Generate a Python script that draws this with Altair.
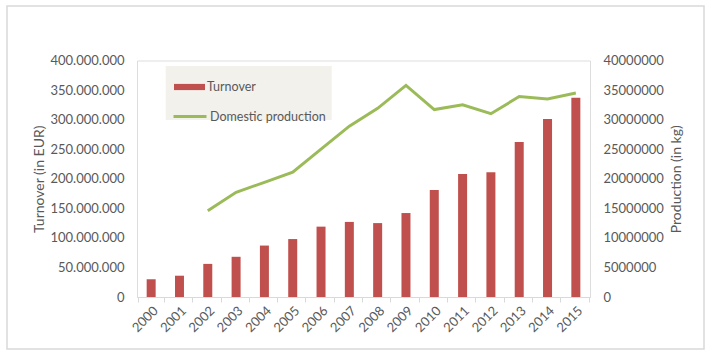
import altair as alt
import pandas as pd

years = [str(y) for y in range(2000, 2016)]
turnover = [30e6, 36e6, 56e6, 68e6, 87e6, 98e6, 119e6, 127e6, 125e6, 142e6,
            181e6, 208e6, 211e6, 262e6, 301e6, 337e6]
production = [None, None, 14.6e6, 17.7e6, 19.4e6, 21.1e6, 25.0e6, 28.9e6, 31.9e6,
              35.8e6, 31.7e6, 32.5e6, 31.0e6, 33.9e6, 33.5e6, 34.5e6]
series_names = ["Turnover", "Domestic production"]

df = pd.DataFrame({"year": years, "turnover": turnover, "production": production,
                   "s1": series_names[0], "s2": series_names[1]})

FONT = "Lato"
GREY = "#595959"
BAR = "#c0504d"
LINE = "#9bbb59"

xenc = alt.X("year:N", title=None, sort=years,
             axis=alt.Axis(labelAngle=-45, labelAlign="right", labelBaseline="top",
                           labelColor=GREY, labelFont=FONT, labelFontSize=13,
                           domainColor="#d9d9d9", tickColor="#d9d9d9", tickSize=5,
                           tickBand="extent", labelPadding=2))

bars = alt.Chart(df).mark_bar(size=9).encode(
    x=xenc,
    y=alt.Y("turnover:Q", title="Turnover (in EUR)",
            scale=alt.Scale(domain=[0, 400e6], nice=False),
            axis=alt.Axis(orient="left", values=[i * 50e6 for i in range(9)],
                          labelExpr="replace(format(datum.value, ',d'), /,/g, '.')",
                          grid=False, domain=False, ticks=False, labelPadding=13,
                          labelColor=GREY, labelFont=FONT, labelFontSize=13,
                          titleColor=GREY, titleFont=FONT, titleFontSize=14,
                          titleFontWeight="normal", titlePadding=4)),
    color=alt.Color("s1:N", scale=alt.Scale(domain=[series_names[0]], range=[BAR]),
                    legend=alt.Legend(title=None, orient="none", legendX=37, legendY=11,
                                      symbolType="M-1,-0.2H1V0.2H-1Z", symbolSize=961,
                                      symbolStrokeWidth=0, labelColor=GREY, labelFont=FONT,
                                      labelFontSize=12.5, labelOffset=2, padding=0)),
)

line = alt.Chart(df).transform_filter("datum.production != null").mark_line(
    strokeWidth=3).encode(
    x=alt.X("year:N", sort=years),
    y=alt.Y("production:Q", title="Production (in kg)",
            scale=alt.Scale(domain=[0, 40e6], nice=False),
            axis=alt.Axis(orient="right", values=[i * 5e6 for i in range(9)], format="d",
                          grid=False, domain=False, ticks=False, labelPadding=13,
                          labelColor=GREY, labelFont=FONT, labelFontSize=13,
                          titleColor=GREY, titleFont=FONT, titleFontSize=14,
                          titleFontWeight="normal", titlePadding=20, titleAngle=-90)),
    stroke=alt.Stroke("s2:N", scale=alt.Scale(domain=[series_names[1]], range=[LINE]),
                      legend=alt.Legend(title=None, orient="none", legendX=35, legendY=38,
                                        symbolType="stroke", symbolSize=1089,
                                        symbolStrokeWidth=3, labelColor=GREY, labelFont=FONT,
                                        labelFontSize=12.5, labelOffset=2, padding=0)),
)

one = pd.DataFrame({"k": [0]})
border = alt.Chart(one).mark_rect(fill=None, stroke="#d9d9d9", strokeWidth=1.5).encode(
    x=alt.value(-130), x2=alt.value(567), y=alt.value(-54.5), y2=alt.value(288.5))
legbox = alt.Chart(one).mark_rect(fill="#f2f1ec").encode(
    x=alt.value(28.7), x2=alt.value(194.7), y=alt.value(5.5), y2=alt.value(59.5))

chart = alt.layer(border, legbox, bars, line).resolve_scale(
    y="independent", color="independent", stroke="independent"
).properties(
    width=453, height=236.5,
    autosize=alt.AutoSizeParams(type="none"),
    padding={"left": 137, "top": 60.5, "right": 116, "bottom": 60},
).configure_view(stroke=None).configure(background="white")

chart.save("out.html", embed_options={"renderer": "svg", "actions": False})
